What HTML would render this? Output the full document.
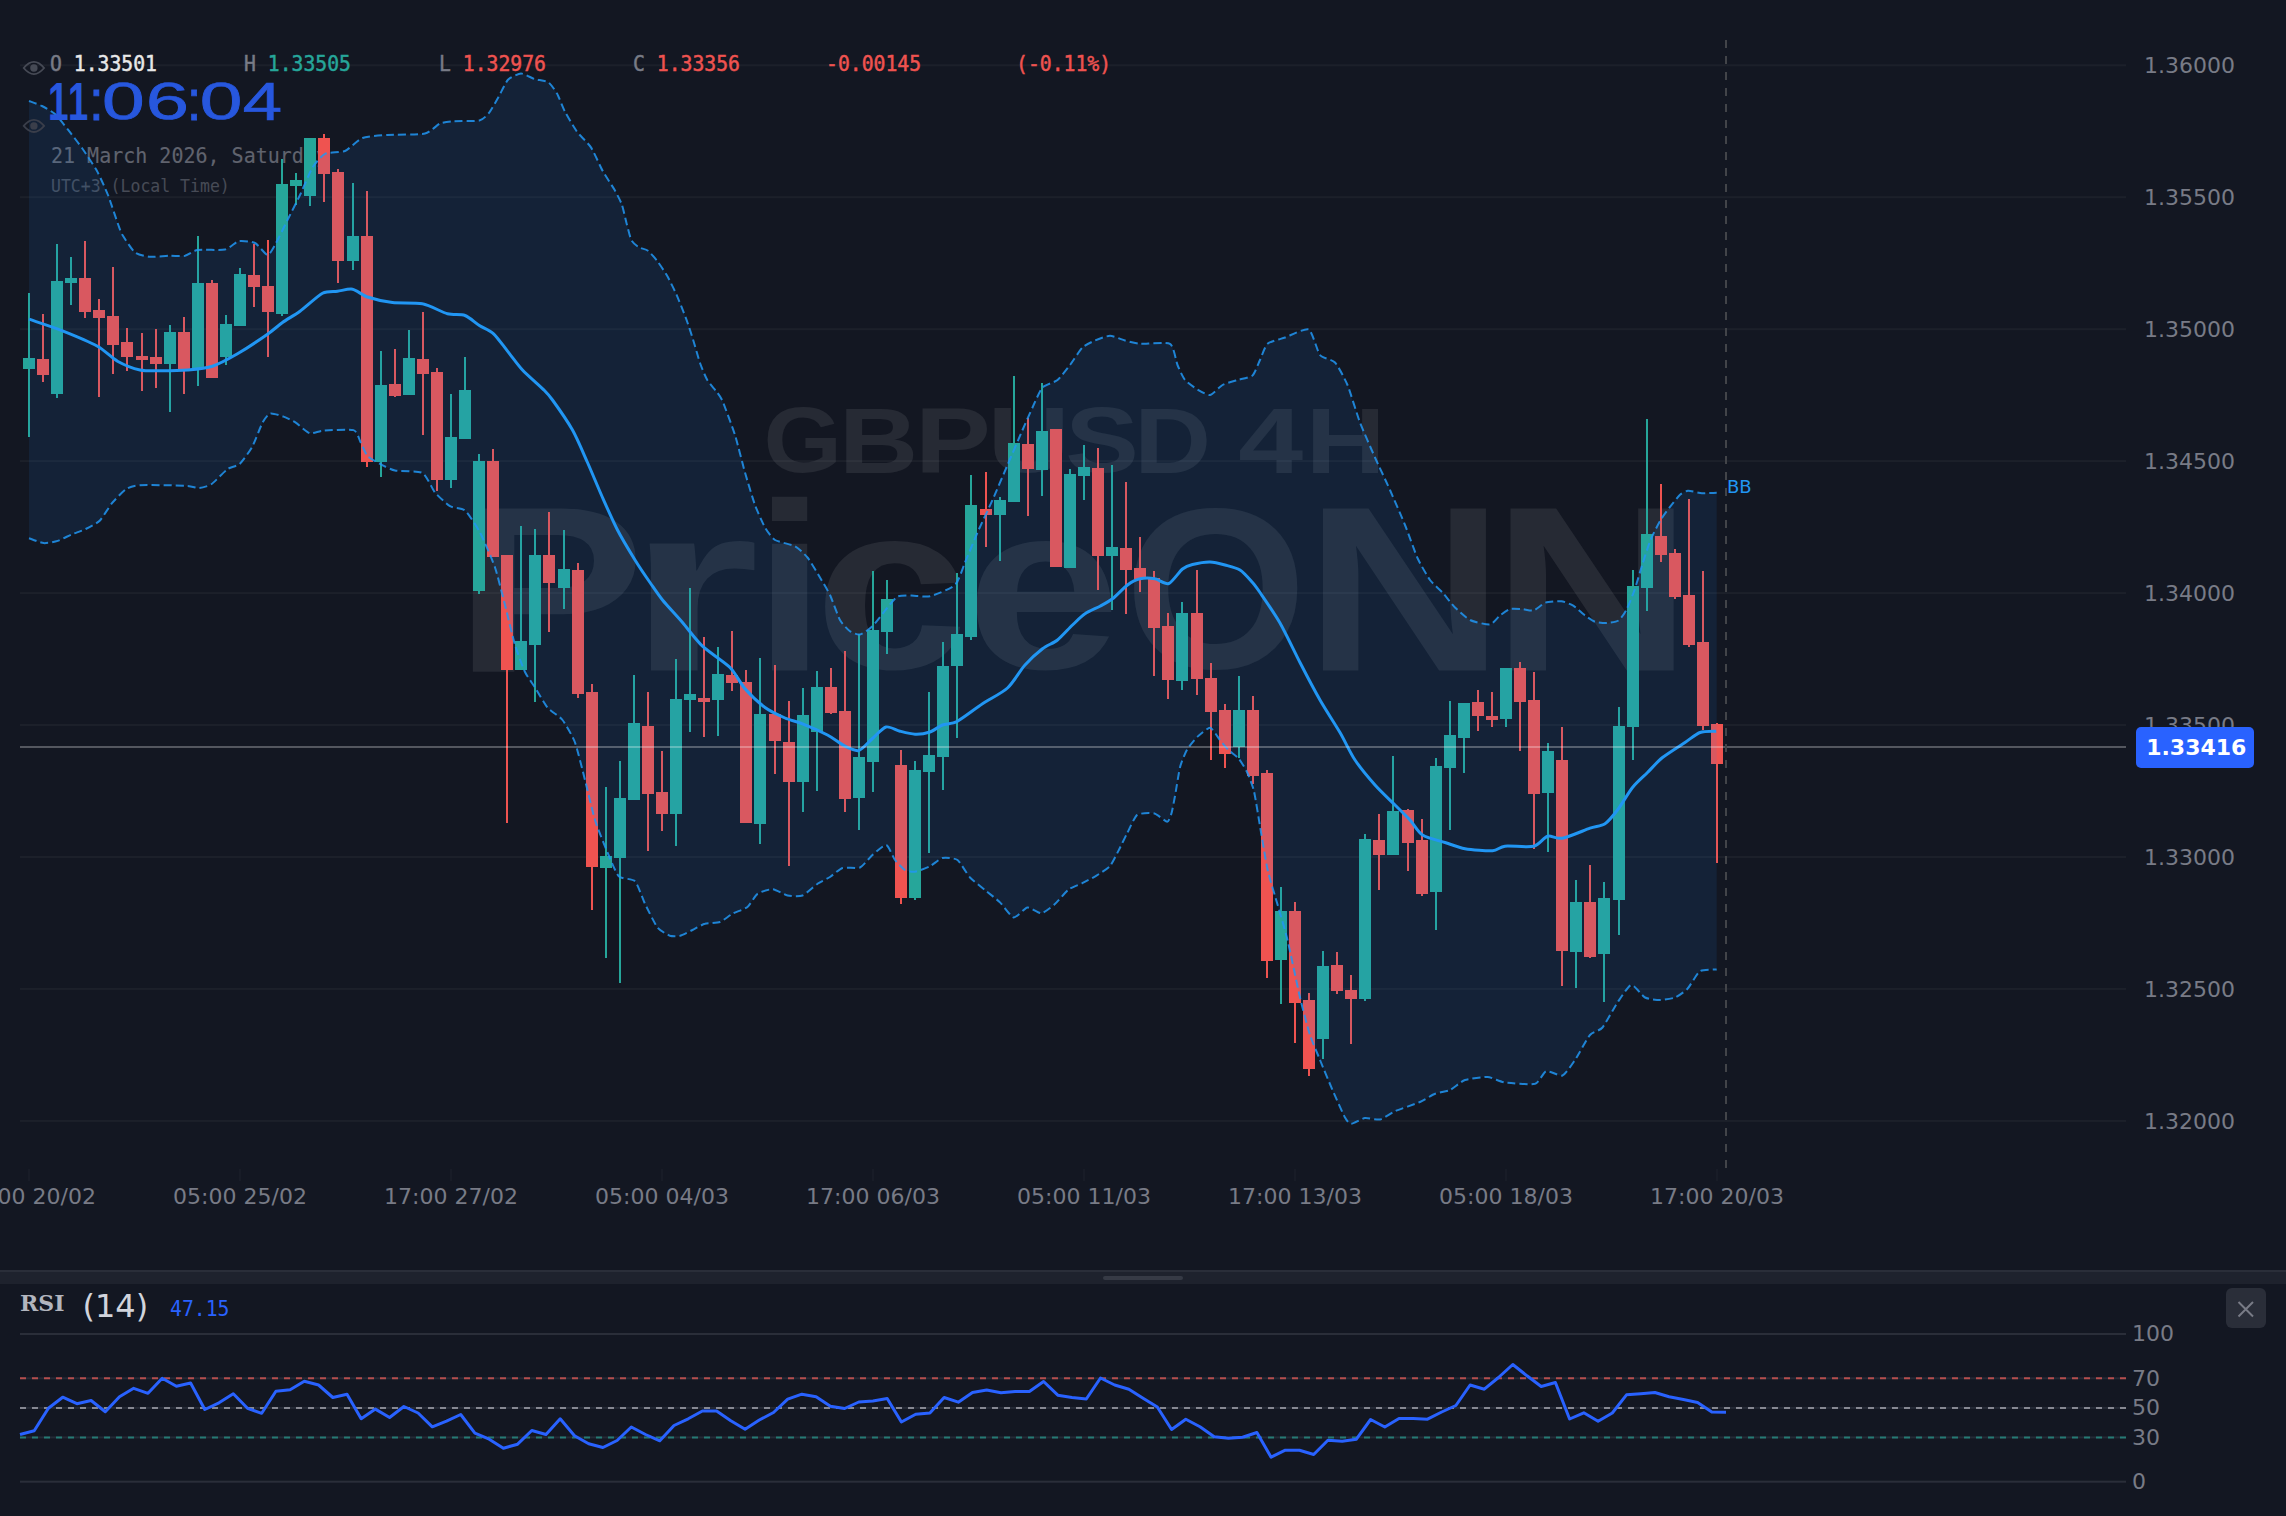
<!DOCTYPE html>
<html><head><meta charset="utf-8"><title>GBPUSD 4H</title>
<style>
html,body{margin:0;padding:0;background:#131722;}
body{width:2286px;height:1516px;position:relative;overflow:hidden;font-family:"DejaVu Sans","Liberation Sans",sans-serif;}
.t{position:absolute;white-space:nowrap;line-height:1.2}
.ax{font-size:22px;color:#787b86}
.pl{font-size:22px;font-weight:bold;color:#fff;background:#2962ff;border-radius:5px;width:118px;height:40.5px;box-sizing:border-box;padding:7.9px 0 0 10.2px}
.bb{font-size:18px;color:#2196f3}
.mono{font-family:"DejaVu Sans Mono","Liberation Mono",monospace;font-size:22px;font-weight:normal;-webkit-text-stroke:0.5px;transform-origin:0 0;transform:scaleX(0.897)}
.clock{font-family:"Liberation Sans",sans-serif;font-weight:bold;font-size:53px;color:#2a5be0;transform-origin:0 0;transform:scaleX(1.13);letter-spacing:0px}
.rsi{font-family:"DejaVu Serif","Liberation Serif",serif;font-weight:bold;font-size:22px;color:#b2b5be}

.rsin{font-size:32px;color:#d1d4dc}
</style></head><body>
<div class="t" style="left:0;top:0;font-family:'Liberation Sans',sans-serif;font-weight:bold;color:rgba(255,255,255,0.083);font-size:200px;"><span style="display:inline-block;width:0;vertical-align:top;transform-origin:0 0;transform:translate(453.60px,447.47px) scale(1.4386,1.1869);">P</span><span style="display:inline-block;width:0;vertical-align:top;transform-origin:0 0;transform:translate(627.20px,443.10px) scale(1.7000,1.2037);">r</span><span style="display:inline-block;width:0;vertical-align:top;transform-origin:0 0;transform:translate(754.01px,443.93px) scale(1.2852,1.1993);">i</span><span style="display:inline-block;width:0;vertical-align:top;transform-origin:0 0;transform:translate(814.32px,444.87px) scale(1.3845,1.1818);">c</span><span style="display:inline-block;width:0;vertical-align:top;transform-origin:0 0;transform:translate(965.86px,444.87px) scale(1.3927,1.1818);">e</span><span style="display:inline-block;width:0;vertical-align:top;transform-origin:0 0;transform:translate(1124.41px,451.89px) scale(1.1741,1.1451);">O</span><span style="display:inline-block;width:0;vertical-align:top;transform-origin:0 0;transform:translate(1304.38px,447.91px) scale(1.3864,1.1783);">N</span><span style="display:inline-block;width:0;vertical-align:top;transform-origin:0 0;transform:translate(1491.97px,447.91px) scale(1.3873,1.1783);">N</span></div><div class="t" style="left:0;top:0;font-family:'Liberation Sans',sans-serif;font-weight:bold;color:rgba(255,255,255,0.083);font-size:90px;word-spacing:-0.278em"><span style="display:inline-block;width:0;vertical-align:top;transform-origin:0 0;transform:translate(763.51px,385.45px) scale(1.1217,1.0203);">G</span><span style="display:inline-block;width:0;vertical-align:top;transform-origin:0 0;transform:translate(838.89px,385.10px) scale(1.2182,1.0365);">B</span><span style="display:inline-block;width:0;vertical-align:top;transform-origin:0 0;transform:translate(914.92px,385.10px) scale(1.2627,1.0365);">P</span><span style="display:inline-block;width:0;vertical-align:top;transform-origin:0 0;transform:translate(987.70px,384.06px) scale(1.2593,1.0365);">U</span><span style="display:inline-block;width:0;vertical-align:top;transform-origin:0 0;transform:translate(1065.32px,385.45px) scale(1.2264,1.0203);">S</span><span style="display:inline-block;width:0;vertical-align:top;transform-origin:0 0;transform:translate(1134.21px,385.10px) scale(1.1818,1.0365);">D</span> <span style="display:inline-block;width:0;vertical-align:top;transform-origin:0 0;transform:translate(1238.20px,385.10px) scale(1.2959,1.0365);">4</span><span style="display:inline-block;width:0;vertical-align:top;transform-origin:0 0;transform:translate(1305.64px,385.10px) scale(1.2264,1.0365);">H</span></div><div class="t mono" style="left:51px;top:143px;color:#60636e;font-weight:normal;-webkit-text-stroke:0.15px;transform:scaleX(0.909)">21 March 2026, Saturday</div><div class="t mono" style="left:51px;top:175px;color:#474b56;font-size:18.4px;font-weight:normal;-webkit-text-stroke:0.1px;transform:scaleX(0.897)">UTC+3 (Local Time)</div>
<svg width="2286" height="1516" viewBox="0 0 2286 1516" style="position:absolute;left:0;top:0"><rect x="20" y="64.3" width="2106" height="2" fill="rgba(255,255,255,0.04)"/><rect x="20" y="196.2" width="2106" height="2" fill="rgba(255,255,255,0.04)"/><rect x="20" y="328.2" width="2106" height="2" fill="rgba(255,255,255,0.04)"/><rect x="20" y="460.1" width="2106" height="2" fill="rgba(255,255,255,0.04)"/><rect x="20" y="592.1" width="2106" height="2" fill="rgba(255,255,255,0.04)"/><rect x="20" y="724.0" width="2106" height="2" fill="rgba(255,255,255,0.04)"/><rect x="20" y="856.0" width="2106" height="2" fill="rgba(255,255,255,0.04)"/><rect x="20" y="987.9" width="2106" height="2" fill="rgba(255,255,255,0.04)"/><rect x="20" y="1119.9" width="2106" height="2" fill="rgba(255,255,255,0.04)"/><rect x="28" y="293" width="2" height="144" fill="#26a69a"/><rect x="23" y="358" width="12" height="11" fill="#26a69a"/><rect x="42" y="314" width="2" height="68" fill="#ef5350"/><rect x="37" y="359" width="12" height="16" fill="#ef5350"/><rect x="56" y="244" width="2" height="154" fill="#26a69a"/><rect x="51" y="281" width="12" height="113" fill="#26a69a"/><rect x="70" y="257" width="2" height="48" fill="#26a69a"/><rect x="65" y="278" width="12" height="5" fill="#26a69a"/><rect x="84" y="241" width="2" height="77" fill="#ef5350"/><rect x="79" y="278" width="12" height="34" fill="#ef5350"/><rect x="98" y="299" width="2" height="98" fill="#ef5350"/><rect x="93" y="310" width="12" height="8" fill="#ef5350"/><rect x="112" y="267" width="2" height="107" fill="#ef5350"/><rect x="107" y="316" width="12" height="29" fill="#ef5350"/><rect x="126" y="328" width="2" height="43" fill="#ef5350"/><rect x="121" y="342" width="12" height="15" fill="#ef5350"/><rect x="141" y="333" width="2" height="58" fill="#ef5350"/><rect x="136" y="356" width="12" height="4" fill="#ef5350"/><rect x="155" y="329" width="2" height="59" fill="#ef5350"/><rect x="150" y="357" width="12" height="7" fill="#ef5350"/><rect x="169" y="325" width="2" height="87" fill="#26a69a"/><rect x="164" y="332" width="12" height="32" fill="#26a69a"/><rect x="183" y="317" width="2" height="77" fill="#ef5350"/><rect x="178" y="332" width="12" height="37" fill="#ef5350"/><rect x="197" y="236" width="2" height="150" fill="#26a69a"/><rect x="192" y="283" width="12" height="86" fill="#26a69a"/><rect x="211" y="280" width="2" height="98" fill="#ef5350"/><rect x="206" y="283" width="12" height="95" fill="#ef5350"/><rect x="225" y="315" width="2" height="50" fill="#26a69a"/><rect x="220" y="324" width="12" height="33" fill="#26a69a"/><rect x="239" y="268" width="2" height="58" fill="#26a69a"/><rect x="234" y="274" width="12" height="52" fill="#26a69a"/><rect x="253" y="244" width="2" height="63" fill="#ef5350"/><rect x="248" y="275" width="12" height="12" fill="#ef5350"/><rect x="267" y="240" width="2" height="117" fill="#ef5350"/><rect x="262" y="286" width="12" height="26" fill="#ef5350"/><rect x="281" y="159" width="2" height="157" fill="#26a69a"/><rect x="276" y="184" width="12" height="130" fill="#26a69a"/><rect x="295" y="173" width="2" height="32" fill="#26a69a"/><rect x="290" y="180" width="12" height="6" fill="#26a69a"/><rect x="309" y="138" width="2" height="68" fill="#26a69a"/><rect x="304" y="138" width="12" height="58" fill="#26a69a"/><rect x="323" y="134" width="2" height="68" fill="#ef5350"/><rect x="318" y="138" width="12" height="36" fill="#ef5350"/><rect x="337" y="169" width="2" height="114" fill="#ef5350"/><rect x="332" y="172" width="12" height="89" fill="#ef5350"/><rect x="352" y="183" width="2" height="87" fill="#26a69a"/><rect x="347" y="236" width="12" height="25" fill="#26a69a"/><rect x="366" y="191" width="2" height="276" fill="#ef5350"/><rect x="361" y="236" width="12" height="226" fill="#ef5350"/><rect x="380" y="351" width="2" height="126" fill="#26a69a"/><rect x="375" y="385" width="12" height="77" fill="#26a69a"/><rect x="394" y="349" width="2" height="48" fill="#ef5350"/><rect x="389" y="384" width="12" height="12" fill="#ef5350"/><rect x="408" y="330" width="2" height="65" fill="#26a69a"/><rect x="403" y="358" width="12" height="37" fill="#26a69a"/><rect x="422" y="312" width="2" height="123" fill="#ef5350"/><rect x="417" y="359" width="12" height="15" fill="#ef5350"/><rect x="436" y="368" width="2" height="123" fill="#ef5350"/><rect x="431" y="372" width="12" height="108" fill="#ef5350"/><rect x="450" y="394" width="2" height="94" fill="#26a69a"/><rect x="445" y="437" width="12" height="43" fill="#26a69a"/><rect x="464" y="357" width="2" height="82" fill="#26a69a"/><rect x="459" y="390" width="12" height="49" fill="#26a69a"/><rect x="478" y="454" width="2" height="140" fill="#26a69a"/><rect x="473" y="461" width="12" height="130" fill="#26a69a"/><rect x="492" y="449" width="2" height="108" fill="#ef5350"/><rect x="487" y="461" width="12" height="96" fill="#ef5350"/><rect x="506" y="555" width="2" height="268" fill="#ef5350"/><rect x="501" y="555" width="12" height="115" fill="#ef5350"/><rect x="520" y="526" width="2" height="144" fill="#26a69a"/><rect x="515" y="641" width="12" height="29" fill="#26a69a"/><rect x="534" y="529" width="2" height="173" fill="#26a69a"/><rect x="529" y="555" width="12" height="90" fill="#26a69a"/><rect x="548" y="512" width="2" height="120" fill="#ef5350"/><rect x="543" y="555" width="12" height="28" fill="#ef5350"/><rect x="563" y="530" width="2" height="79" fill="#26a69a"/><rect x="558" y="569" width="12" height="19" fill="#26a69a"/><rect x="577" y="563" width="2" height="135" fill="#ef5350"/><rect x="572" y="570" width="12" height="124" fill="#ef5350"/><rect x="591" y="684" width="2" height="226" fill="#ef5350"/><rect x="586" y="692" width="12" height="175" fill="#ef5350"/><rect x="605" y="787" width="2" height="171" fill="#26a69a"/><rect x="600" y="856" width="12" height="12" fill="#26a69a"/><rect x="619" y="761" width="2" height="222" fill="#26a69a"/><rect x="614" y="798" width="12" height="60" fill="#26a69a"/><rect x="633" y="675" width="2" height="125" fill="#26a69a"/><rect x="628" y="723" width="12" height="77" fill="#26a69a"/><rect x="647" y="692" width="2" height="159" fill="#ef5350"/><rect x="642" y="726" width="12" height="68" fill="#ef5350"/><rect x="661" y="751" width="2" height="80" fill="#ef5350"/><rect x="656" y="792" width="12" height="22" fill="#ef5350"/><rect x="675" y="659" width="2" height="187" fill="#26a69a"/><rect x="670" y="699" width="12" height="115" fill="#26a69a"/><rect x="689" y="588" width="2" height="144" fill="#26a69a"/><rect x="684" y="694" width="12" height="6" fill="#26a69a"/><rect x="703" y="637" width="2" height="100" fill="#ef5350"/><rect x="698" y="698" width="12" height="4" fill="#ef5350"/><rect x="717" y="647" width="2" height="89" fill="#26a69a"/><rect x="712" y="674" width="12" height="26" fill="#26a69a"/><rect x="731" y="631" width="2" height="60" fill="#ef5350"/><rect x="726" y="675" width="12" height="8" fill="#ef5350"/><rect x="745" y="670" width="2" height="153" fill="#ef5350"/><rect x="740" y="682" width="12" height="141" fill="#ef5350"/><rect x="759" y="658" width="2" height="186" fill="#26a69a"/><rect x="754" y="714" width="12" height="110" fill="#26a69a"/><rect x="774" y="665" width="2" height="109" fill="#ef5350"/><rect x="769" y="714" width="12" height="27" fill="#ef5350"/><rect x="788" y="701" width="2" height="165" fill="#ef5350"/><rect x="783" y="742" width="12" height="40" fill="#ef5350"/><rect x="802" y="688" width="2" height="124" fill="#26a69a"/><rect x="797" y="715" width="12" height="67" fill="#26a69a"/><rect x="816" y="671" width="2" height="120" fill="#26a69a"/><rect x="811" y="687" width="12" height="45" fill="#26a69a"/><rect x="830" y="668" width="2" height="46" fill="#ef5350"/><rect x="825" y="687" width="12" height="26" fill="#ef5350"/><rect x="844" y="651" width="2" height="161" fill="#ef5350"/><rect x="839" y="711" width="12" height="88" fill="#ef5350"/><rect x="858" y="634" width="2" height="196" fill="#26a69a"/><rect x="853" y="757" width="12" height="41" fill="#26a69a"/><rect x="872" y="571" width="2" height="221" fill="#26a69a"/><rect x="867" y="630" width="12" height="132" fill="#26a69a"/><rect x="886" y="580" width="2" height="74" fill="#26a69a"/><rect x="881" y="599" width="12" height="33" fill="#26a69a"/><rect x="900" y="750" width="2" height="154" fill="#ef5350"/><rect x="895" y="765" width="12" height="133" fill="#ef5350"/><rect x="914" y="761" width="2" height="139" fill="#26a69a"/><rect x="909" y="770" width="12" height="128" fill="#26a69a"/><rect x="928" y="692" width="2" height="161" fill="#26a69a"/><rect x="923" y="755" width="12" height="17" fill="#26a69a"/><rect x="942" y="642" width="2" height="148" fill="#26a69a"/><rect x="937" y="666" width="12" height="91" fill="#26a69a"/><rect x="956" y="573" width="2" height="165" fill="#26a69a"/><rect x="951" y="634" width="12" height="32" fill="#26a69a"/><rect x="970" y="475" width="2" height="165" fill="#26a69a"/><rect x="965" y="505" width="12" height="132" fill="#26a69a"/><rect x="985" y="472" width="2" height="75" fill="#ef5350"/><rect x="980" y="509" width="12" height="6" fill="#ef5350"/><rect x="999" y="497" width="2" height="64" fill="#26a69a"/><rect x="994" y="500" width="12" height="15" fill="#26a69a"/><rect x="1013" y="376" width="2" height="126" fill="#26a69a"/><rect x="1008" y="443" width="12" height="59" fill="#26a69a"/><rect x="1027" y="418" width="2" height="98" fill="#ef5350"/><rect x="1022" y="444" width="12" height="25" fill="#ef5350"/><rect x="1041" y="383" width="2" height="113" fill="#26a69a"/><rect x="1036" y="431" width="12" height="39" fill="#26a69a"/><rect x="1055" y="429" width="2" height="138" fill="#ef5350"/><rect x="1050" y="429" width="12" height="138" fill="#ef5350"/><rect x="1069" y="469" width="2" height="99" fill="#26a69a"/><rect x="1064" y="474" width="12" height="94" fill="#26a69a"/><rect x="1083" y="445" width="2" height="55" fill="#26a69a"/><rect x="1078" y="467" width="12" height="9" fill="#26a69a"/><rect x="1097" y="448" width="2" height="142" fill="#ef5350"/><rect x="1092" y="468" width="12" height="88" fill="#ef5350"/><rect x="1111" y="465" width="2" height="145" fill="#26a69a"/><rect x="1106" y="547" width="12" height="9" fill="#26a69a"/><rect x="1125" y="482" width="2" height="132" fill="#ef5350"/><rect x="1120" y="548" width="12" height="22" fill="#ef5350"/><rect x="1139" y="537" width="2" height="55" fill="#ef5350"/><rect x="1134" y="568" width="12" height="11" fill="#ef5350"/><rect x="1153" y="571" width="2" height="105" fill="#ef5350"/><rect x="1148" y="578" width="12" height="50" fill="#ef5350"/><rect x="1167" y="613" width="2" height="86" fill="#ef5350"/><rect x="1162" y="626" width="12" height="54" fill="#ef5350"/><rect x="1181" y="602" width="2" height="88" fill="#26a69a"/><rect x="1176" y="613" width="12" height="68" fill="#26a69a"/><rect x="1196" y="570" width="2" height="125" fill="#ef5350"/><rect x="1191" y="613" width="12" height="66" fill="#ef5350"/><rect x="1210" y="663" width="2" height="97" fill="#ef5350"/><rect x="1205" y="678" width="12" height="34" fill="#ef5350"/><rect x="1224" y="704" width="2" height="64" fill="#ef5350"/><rect x="1219" y="710" width="12" height="44" fill="#ef5350"/><rect x="1238" y="676" width="2" height="82" fill="#26a69a"/><rect x="1233" y="710" width="12" height="37" fill="#26a69a"/><rect x="1252" y="696" width="2" height="88" fill="#ef5350"/><rect x="1247" y="710" width="12" height="66" fill="#ef5350"/><rect x="1266" y="770" width="2" height="208" fill="#ef5350"/><rect x="1261" y="773" width="12" height="188" fill="#ef5350"/><rect x="1280" y="887" width="2" height="117" fill="#26a69a"/><rect x="1275" y="911" width="12" height="49" fill="#26a69a"/><rect x="1294" y="902" width="2" height="141" fill="#ef5350"/><rect x="1289" y="911" width="12" height="92" fill="#ef5350"/><rect x="1308" y="993" width="2" height="83" fill="#ef5350"/><rect x="1303" y="1000" width="12" height="69" fill="#ef5350"/><rect x="1322" y="951" width="2" height="108" fill="#26a69a"/><rect x="1317" y="966" width="12" height="73" fill="#26a69a"/><rect x="1336" y="952" width="2" height="42" fill="#ef5350"/><rect x="1331" y="965" width="12" height="26" fill="#ef5350"/><rect x="1350" y="975" width="2" height="69" fill="#ef5350"/><rect x="1345" y="990" width="12" height="9" fill="#ef5350"/><rect x="1364" y="834" width="2" height="167" fill="#26a69a"/><rect x="1359" y="839" width="12" height="160" fill="#26a69a"/><rect x="1378" y="814" width="2" height="76" fill="#ef5350"/><rect x="1373" y="840" width="12" height="15" fill="#ef5350"/><rect x="1392" y="756" width="2" height="99" fill="#26a69a"/><rect x="1387" y="811" width="12" height="44" fill="#26a69a"/><rect x="1407" y="809" width="2" height="62" fill="#ef5350"/><rect x="1402" y="810" width="12" height="33" fill="#ef5350"/><rect x="1421" y="819" width="2" height="77" fill="#ef5350"/><rect x="1416" y="840" width="12" height="54" fill="#ef5350"/><rect x="1435" y="758" width="2" height="172" fill="#26a69a"/><rect x="1430" y="766" width="12" height="126" fill="#26a69a"/><rect x="1449" y="701" width="2" height="129" fill="#26a69a"/><rect x="1444" y="735" width="12" height="33" fill="#26a69a"/><rect x="1463" y="703" width="2" height="70" fill="#26a69a"/><rect x="1458" y="703" width="12" height="35" fill="#26a69a"/><rect x="1477" y="690" width="2" height="41" fill="#ef5350"/><rect x="1472" y="702" width="12" height="14" fill="#ef5350"/><rect x="1491" y="692" width="2" height="35" fill="#ef5350"/><rect x="1486" y="716" width="12" height="4" fill="#ef5350"/><rect x="1505" y="668" width="2" height="59" fill="#26a69a"/><rect x="1500" y="668" width="12" height="51" fill="#26a69a"/><rect x="1519" y="662" width="2" height="89" fill="#ef5350"/><rect x="1514" y="668" width="12" height="34" fill="#ef5350"/><rect x="1533" y="672" width="2" height="177" fill="#ef5350"/><rect x="1528" y="700" width="12" height="94" fill="#ef5350"/><rect x="1547" y="743" width="2" height="109" fill="#26a69a"/><rect x="1542" y="751" width="12" height="42" fill="#26a69a"/><rect x="1561" y="727" width="2" height="259" fill="#ef5350"/><rect x="1556" y="760" width="12" height="191" fill="#ef5350"/><rect x="1575" y="880" width="2" height="108" fill="#26a69a"/><rect x="1570" y="902" width="12" height="50" fill="#26a69a"/><rect x="1589" y="865" width="2" height="93" fill="#ef5350"/><rect x="1584" y="902" width="12" height="55" fill="#ef5350"/><rect x="1603" y="882" width="2" height="120" fill="#26a69a"/><rect x="1598" y="898" width="12" height="56" fill="#26a69a"/><rect x="1618" y="707" width="2" height="228" fill="#26a69a"/><rect x="1613" y="726" width="12" height="174" fill="#26a69a"/><rect x="1632" y="570" width="2" height="190" fill="#26a69a"/><rect x="1627" y="586" width="12" height="141" fill="#26a69a"/><rect x="1646" y="419" width="2" height="192" fill="#26a69a"/><rect x="1641" y="534" width="12" height="54" fill="#26a69a"/><rect x="1660" y="484" width="2" height="78" fill="#ef5350"/><rect x="1655" y="536" width="12" height="19" fill="#ef5350"/><rect x="1674" y="549" width="2" height="50" fill="#ef5350"/><rect x="1669" y="553" width="12" height="44" fill="#ef5350"/><rect x="1688" y="499" width="2" height="148" fill="#ef5350"/><rect x="1683" y="595" width="12" height="50" fill="#ef5350"/><rect x="1702" y="571" width="2" height="159" fill="#ef5350"/><rect x="1697" y="642" width="12" height="84" fill="#ef5350"/><rect x="1716" y="723" width="2" height="140" fill="#ef5350"/><rect x="1711" y="724" width="12" height="40" fill="#ef5350"/><path d="M29.0,101.0C30.3,101.5 39.4,104.7 42.0,106.0C44.6,107.3 52.4,111.6 55.0,114.0C57.6,116.4 65.3,126.3 68.0,129.7C70.7,133.1 79.1,143.9 82.0,148.0C84.9,152.1 94.4,166.3 97.0,171.0C99.6,175.7 105.9,189.7 108.0,195.0C110.1,200.3 116.5,220.0 118.0,224.0C119.5,228.0 120.8,232.2 122.5,235.0C124.2,237.8 132.2,250.3 135.0,252.5C137.8,254.7 146.5,256.4 150.0,256.8C153.5,257.1 166.5,255.8 170.0,255.8C173.5,255.7 182.2,256.3 185.0,255.8C187.8,255.2 193.5,250.6 197.5,250.0C201.5,249.4 220.9,250.4 225.0,249.5C229.1,248.6 235.8,241.9 238.8,241.2C241.8,240.6 252.1,241.6 255.0,243.0C257.9,244.4 265.5,254.8 267.5,255.0C269.5,255.2 273.0,248.5 275.0,245.0C277.0,241.5 285.0,225.0 287.5,220.0C290.0,215.0 297.5,200.2 300.0,195.0C302.5,189.8 310.0,171.6 312.5,167.5C315.0,163.4 321.8,155.4 325.0,153.8C328.2,152.1 341.2,152.6 345.0,151.0C348.8,149.4 358.2,139.6 362.5,138.0C366.8,136.4 381.2,135.4 387.5,135.0C393.8,134.6 419.8,134.7 425.0,133.5C430.2,132.3 437.2,124.7 440.0,123.5C442.8,122.3 449.1,121.5 453.0,121.2C456.9,120.9 475.8,121.3 479.4,120.5C483.0,119.7 487.1,115.2 489.0,112.9C490.9,110.6 496.6,100.3 498.5,97.0C500.4,93.7 505.8,82.1 508.0,79.8C510.2,77.5 518.4,73.6 521.0,73.5C523.6,73.4 531.8,78.1 534.5,79.0C537.2,79.9 546.1,80.8 548.4,82.3C550.6,83.8 555.3,90.6 557.0,93.5C558.7,96.4 563.0,107.9 565.0,111.7C567.0,115.5 574.2,127.9 576.8,131.5C579.4,135.1 588.4,143.4 591.0,147.4C593.6,151.4 600.4,166.8 602.8,171.1C605.2,175.4 612.8,186.8 614.7,190.1C616.6,193.4 620.6,201.1 621.8,204.4C623.0,207.7 625.6,219.8 626.6,223.4C627.6,227.0 630.1,237.6 631.3,240.0C632.5,242.4 636.8,246.0 638.5,247.1C640.2,248.2 646.1,249.3 648.0,250.7C649.9,252.1 655.6,258.8 657.5,261.3C659.4,263.8 665.1,272.3 667.0,275.6C668.9,278.9 674.6,290.3 676.5,294.6C678.4,298.9 684.3,313.8 686.0,318.3C687.7,322.8 691.7,335.2 693.1,339.7C694.5,344.2 698.8,359.5 700.2,363.5C701.6,367.5 705.6,377.2 707.3,380.1C709.0,383.0 715.3,389.9 716.8,392.0C718.3,394.1 720.7,396.7 722.5,401.0C724.3,405.3 732.8,427.9 735.0,435.0C737.2,442.1 743.0,465.5 745.0,472.5C747.0,479.5 753.0,499.5 755.0,505.0C757.0,510.5 763.0,524.0 765.0,527.5C767.0,531.0 772.0,538.1 775.0,540.0C778.0,541.9 791.8,544.5 795.0,546.2C798.2,548.0 805.0,554.4 807.5,557.5C810.0,560.6 817.8,573.8 820.0,577.5C822.2,581.2 828.0,590.8 830.0,595.0C832.0,599.2 838.0,616.4 840.0,620.0C842.0,623.6 848.0,629.8 850.0,631.2C852.0,632.7 857.8,635.0 860.0,634.5C862.2,634.0 869.8,629.0 872.5,626.2C875.2,623.5 885.0,610.5 887.5,607.5C890.0,604.5 895.1,597.7 897.5,596.5C899.9,595.3 908.2,595.5 911.5,595.5C914.8,595.5 925.6,597.3 930.0,596.2C934.4,595.2 951.5,588.4 955.0,585.0C958.5,581.6 962.8,567.8 965.0,562.5C967.2,557.2 974.8,538.8 977.5,532.5C980.2,526.2 989.5,506.8 992.5,500.0C995.5,493.2 1004.5,472.0 1007.5,465.0C1010.5,458.0 1020.0,435.8 1022.5,430.0C1025.0,424.2 1030.5,411.8 1032.5,407.5C1034.5,403.2 1040.0,390.2 1042.5,387.5C1045.0,384.8 1054.8,382.2 1057.5,380.0C1060.2,377.8 1067.5,368.2 1070.0,365.0C1072.5,361.8 1080.0,349.9 1082.5,347.5C1085.0,345.1 1092.2,341.7 1095.0,340.5C1097.8,339.3 1107.0,335.8 1110.0,335.8C1113.0,335.8 1122.0,339.7 1125.0,340.5C1128.0,341.3 1135.5,343.4 1140.0,343.8C1144.5,344.1 1166.2,341.6 1170.0,343.8C1173.8,345.9 1176.0,361.4 1177.5,365.0C1179.0,368.6 1183.0,377.6 1185.0,380.0C1187.0,382.4 1195.0,388.0 1197.5,389.5C1200.0,391.0 1207.5,395.4 1210.0,395.0C1212.5,394.6 1219.8,386.5 1222.5,385.0C1225.2,383.5 1234.5,380.9 1237.5,380.0C1240.5,379.1 1250.2,377.5 1252.5,375.5C1254.8,373.5 1258.5,363.2 1260.0,360.0C1261.5,356.8 1265.0,346.0 1267.5,343.8C1270.0,341.5 1280.9,338.9 1285.0,337.5C1289.1,336.1 1305.2,327.8 1308.8,329.5C1312.2,331.2 1317.4,351.7 1320.0,355.0C1322.6,358.3 1332.2,359.5 1335.0,362.5C1337.8,365.5 1345.0,379.0 1347.5,385.0C1350.0,391.0 1357.2,415.2 1360.0,422.5C1362.8,429.8 1372.0,450.8 1375.0,457.5C1378.0,464.2 1387.0,483.2 1390.0,490.0C1393.0,496.8 1402.2,518.2 1405.0,525.0C1407.8,531.8 1415.0,552.5 1417.5,558.0C1420.0,563.5 1427.5,576.5 1430.0,580.0C1432.5,583.5 1440.0,589.8 1442.5,592.5C1445.0,595.2 1452.2,604.8 1455.0,607.5C1457.8,610.2 1466.5,618.3 1470.0,620.0C1473.5,621.7 1487.0,625.0 1490.0,624.5C1493.0,624.0 1498.0,617.0 1500.0,615.5C1502.0,614.0 1507.8,609.6 1510.0,609.0C1512.2,608.4 1519.4,608.9 1521.8,609.0C1524.2,609.1 1531.2,611.1 1533.6,610.5C1536.0,609.9 1542.7,603.5 1545.5,602.6C1548.3,601.7 1558.5,600.9 1561.3,601.2C1564.1,601.5 1570.8,604.2 1573.2,605.6C1575.6,607.0 1582.8,613.9 1585.0,615.5C1587.2,617.1 1592.8,621.0 1595.0,621.8C1597.2,622.5 1604.5,623.1 1606.9,623.0C1609.3,622.9 1616.7,621.8 1618.7,620.4C1620.7,619.0 1625.0,612.6 1626.6,609.5C1628.2,606.4 1633.0,594.3 1634.6,589.8C1636.2,585.2 1640.9,569.0 1642.5,564.0C1644.1,559.0 1648.6,544.6 1650.4,540.3C1652.2,535.9 1658.3,523.9 1660.3,520.5C1662.3,517.1 1668.2,509.2 1670.2,506.6C1672.2,504.0 1678.2,496.4 1680.0,494.8C1681.8,493.2 1685.8,491.0 1688.0,490.8C1690.2,490.6 1699.0,493.0 1701.9,493.2C1704.8,493.4 1715.2,492.8 1716.7,492.8L1716.7,969.5C1715.0,969.7 1702.9,969.3 1700.0,971.2C1697.1,973.2 1690.0,986.1 1687.5,988.8C1685.0,991.4 1677.8,996.4 1675.0,997.5C1672.2,998.6 1663.0,1000.0 1660.0,1000.0C1657.0,1000.0 1647.9,999.0 1645.0,997.5C1642.1,996.0 1634.0,984.5 1631.2,985.0C1628.5,985.5 1620.4,998.2 1617.5,1002.5C1614.6,1006.8 1605.2,1024.2 1602.5,1027.5C1599.8,1030.8 1592.8,1031.8 1590.0,1035.0C1587.2,1038.2 1577.8,1056.0 1575.0,1060.0C1572.2,1064.0 1565.4,1074.4 1562.5,1075.5C1559.6,1076.6 1549.0,1070.4 1546.2,1071.2C1543.5,1072.1 1539.1,1082.6 1535.0,1083.8C1530.9,1084.9 1509.8,1083.2 1505.0,1082.5C1500.2,1081.8 1491.5,1077.2 1487.5,1077.0C1483.5,1076.8 1468.8,1078.7 1465.0,1080.0C1461.2,1081.3 1453.0,1088.6 1450.0,1090.0C1447.0,1091.4 1438.0,1092.5 1435.0,1093.8C1432.0,1095.0 1424.0,1100.2 1420.0,1102.0C1416.0,1103.8 1399.0,1109.5 1395.0,1111.2C1391.0,1113.0 1383.0,1118.8 1380.0,1119.5C1377.0,1120.2 1367.9,1117.6 1365.0,1118.0C1362.1,1118.4 1353.2,1123.8 1351.2,1123.8C1349.2,1123.7 1346.9,1120.9 1345.0,1117.5C1343.1,1114.1 1335.0,1095.8 1332.5,1090.0C1330.0,1084.2 1322.2,1065.5 1320.0,1060.0C1317.8,1054.5 1312.0,1041.2 1310.0,1035.0C1308.0,1028.8 1302.2,1007.0 1300.0,997.5C1297.8,988.0 1289.7,949.2 1287.5,940.0C1285.3,930.8 1279.9,912.8 1277.9,905.8C1275.9,898.8 1269.3,877.3 1267.6,869.8C1265.9,862.3 1262.1,838.3 1260.7,830.4C1259.3,822.5 1255.3,796.7 1253.9,790.9C1252.5,785.1 1248.5,775.3 1247.0,772.0C1245.5,768.7 1240.3,760.5 1238.4,758.3C1236.5,756.1 1230.0,751.6 1228.1,749.7C1226.2,747.8 1221.4,741.7 1219.6,739.5C1217.8,737.3 1212.3,728.1 1210.1,727.8C1207.9,727.5 1199.6,734.7 1197.3,736.9C1195.0,739.1 1188.7,746.7 1187.0,749.7C1185.3,752.7 1181.3,762.3 1180.1,766.9C1178.9,771.5 1175.9,791.4 1175.0,796.0C1174.1,800.6 1172.3,810.6 1171.5,813.2C1170.7,815.8 1168.9,821.8 1167.2,821.8C1165.5,821.8 1157.4,814.2 1154.4,813.5C1151.4,812.8 1140.0,812.9 1137.2,814.9C1134.5,816.9 1128.8,830.2 1126.9,833.8C1125.0,837.4 1120.1,847.6 1118.4,850.9C1116.7,854.2 1112.0,863.9 1109.8,866.4C1107.6,868.9 1098.8,874.1 1096.1,875.8C1093.3,877.5 1085.0,881.8 1082.3,883.2C1079.5,884.6 1071.3,887.4 1068.6,889.5C1065.9,891.6 1057.6,901.7 1054.9,904.1C1052.2,906.5 1044.0,912.9 1041.2,913.2C1038.5,913.5 1030.2,907.1 1027.4,907.5C1024.7,907.9 1016.4,918.0 1013.7,917.5C1011.0,917.0 1002.9,905.1 1000.0,902.4C997.1,899.6 988.0,892.5 985.0,890.0C982.0,887.5 972.8,880.5 970.0,877.5C967.2,874.5 960.2,862.0 957.5,860.0C954.8,858.0 945.2,857.4 942.5,858.0C939.8,858.6 932.8,864.9 930.0,866.2C927.2,867.6 917.5,871.4 915.0,871.8C912.5,872.1 907.0,871.2 905.0,870.0C903.0,868.8 896.9,862.5 895.0,860.0C893.1,857.5 888.5,845.5 886.2,845.0C884.0,844.5 875.1,852.8 872.5,855.0C869.9,857.2 863.0,866.2 860.0,867.5C857.0,868.8 845.5,867.0 842.5,868.0C839.5,869.0 832.5,875.4 830.0,877.0C827.5,878.6 820.2,881.9 817.5,883.8C814.8,885.6 805.5,894.3 802.5,895.5C799.5,896.7 790.5,896.1 787.5,895.5C784.5,894.9 775.5,889.4 772.5,889.2C769.5,889.1 760.0,892.0 757.5,893.8C755.0,895.5 750.0,905.0 747.5,907.0C745.0,909.0 735.2,912.2 732.5,913.8C729.8,915.2 722.8,921.0 720.0,922.0C717.2,923.0 707.8,923.0 705.0,923.8C702.2,924.5 695.0,928.8 692.5,930.0C690.0,931.2 682.2,935.2 680.0,935.8C677.8,936.3 672.2,936.6 670.0,935.8C667.8,934.9 660.0,930.7 657.5,927.5C655.0,924.3 647.2,908.4 645.0,903.8C642.8,899.1 637.6,884.0 635.0,881.2C632.4,878.5 621.5,879.1 618.8,876.2C616.0,873.4 609.9,858.1 607.5,852.5C605.1,846.9 597.2,827.2 595.0,820.0C592.8,812.8 587.0,787.8 585.0,780.0C583.0,772.2 577.2,748.5 575.0,742.5C572.8,736.5 565.2,723.5 562.5,720.0C559.8,716.5 550.2,710.8 547.5,707.5C544.8,704.2 537.2,691.0 535.0,687.5C532.8,684.0 527.0,676.2 525.0,672.0C523.0,667.8 517.0,651.7 515.0,645.0C513.0,638.3 507.0,612.8 505.0,605.0C503.0,597.2 497.5,574.8 495.0,567.5C492.5,560.2 483.0,538.2 480.0,532.5C477.0,526.8 468.0,513.1 465.0,510.5C462.0,507.9 453.0,508.1 450.0,506.2C447.0,504.4 437.8,495.8 435.0,492.5C432.2,489.2 426.5,475.2 422.5,473.0C418.5,470.8 399.1,471.3 395.0,470.5C390.9,469.7 384.2,466.1 381.5,464.7C378.8,463.2 369.6,458.3 367.5,456.0C365.4,453.7 361.9,444.6 360.5,442.0C359.1,439.4 357.2,431.2 353.5,430.1C349.8,429.0 328.1,430.3 323.7,430.6C319.3,430.9 312.5,434.0 309.7,433.2C306.9,432.4 298.3,424.4 295.7,422.7C293.1,421.0 286.0,417.5 283.5,416.6C281.0,415.7 272.4,412.9 270.3,413.5C268.2,414.1 264.3,419.3 262.5,422.7C260.7,426.1 254.3,443.1 252.0,447.2C249.7,451.3 242.1,461.7 239.7,463.9C237.2,466.1 230.3,467.1 227.5,469.1C224.7,471.1 214.5,482.1 211.7,484.0C208.9,485.9 202.1,487.8 199.5,488.0C196.9,488.2 191.4,486.0 185.5,485.7C179.6,485.4 145.9,484.8 140.0,485.2C134.1,485.6 128.8,487.4 126.0,489.2C123.2,491.0 114.6,500.0 112.0,503.2C109.4,506.4 102.3,518.1 99.7,520.7C97.1,523.3 88.5,527.6 85.7,529.0C82.9,530.4 74.5,533.2 71.7,534.4C68.9,535.6 60.5,540.0 57.7,540.9C54.9,541.8 46.6,543.4 43.7,543.1C40.8,542.8 30.5,538.7 29.0,538.2Z" fill="rgba(33,135,243,0.1)"/><path d="M29.0,101.0C30.3,101.5 39.4,104.7 42.0,106.0C44.6,107.3 52.4,111.6 55.0,114.0C57.6,116.4 65.3,126.3 68.0,129.7C70.7,133.1 79.1,143.9 82.0,148.0C84.9,152.1 94.4,166.3 97.0,171.0C99.6,175.7 105.9,189.7 108.0,195.0C110.1,200.3 116.5,220.0 118.0,224.0C119.5,228.0 120.8,232.2 122.5,235.0C124.2,237.8 132.2,250.3 135.0,252.5C137.8,254.7 146.5,256.4 150.0,256.8C153.5,257.1 166.5,255.8 170.0,255.8C173.5,255.7 182.2,256.3 185.0,255.8C187.8,255.2 193.5,250.6 197.5,250.0C201.5,249.4 220.9,250.4 225.0,249.5C229.1,248.6 235.8,241.9 238.8,241.2C241.8,240.6 252.1,241.6 255.0,243.0C257.9,244.4 265.5,254.8 267.5,255.0C269.5,255.2 273.0,248.5 275.0,245.0C277.0,241.5 285.0,225.0 287.5,220.0C290.0,215.0 297.5,200.2 300.0,195.0C302.5,189.8 310.0,171.6 312.5,167.5C315.0,163.4 321.8,155.4 325.0,153.8C328.2,152.1 341.2,152.6 345.0,151.0C348.8,149.4 358.2,139.6 362.5,138.0C366.8,136.4 381.2,135.4 387.5,135.0C393.8,134.6 419.8,134.7 425.0,133.5C430.2,132.3 437.2,124.7 440.0,123.5C442.8,122.3 449.1,121.5 453.0,121.2C456.9,120.9 475.8,121.3 479.4,120.5C483.0,119.7 487.1,115.2 489.0,112.9C490.9,110.6 496.6,100.3 498.5,97.0C500.4,93.7 505.8,82.1 508.0,79.8C510.2,77.5 518.4,73.6 521.0,73.5C523.6,73.4 531.8,78.1 534.5,79.0C537.2,79.9 546.1,80.8 548.4,82.3C550.6,83.8 555.3,90.6 557.0,93.5C558.7,96.4 563.0,107.9 565.0,111.7C567.0,115.5 574.2,127.9 576.8,131.5C579.4,135.1 588.4,143.4 591.0,147.4C593.6,151.4 600.4,166.8 602.8,171.1C605.2,175.4 612.8,186.8 614.7,190.1C616.6,193.4 620.6,201.1 621.8,204.4C623.0,207.7 625.6,219.8 626.6,223.4C627.6,227.0 630.1,237.6 631.3,240.0C632.5,242.4 636.8,246.0 638.5,247.1C640.2,248.2 646.1,249.3 648.0,250.7C649.9,252.1 655.6,258.8 657.5,261.3C659.4,263.8 665.1,272.3 667.0,275.6C668.9,278.9 674.6,290.3 676.5,294.6C678.4,298.9 684.3,313.8 686.0,318.3C687.7,322.8 691.7,335.2 693.1,339.7C694.5,344.2 698.8,359.5 700.2,363.5C701.6,367.5 705.6,377.2 707.3,380.1C709.0,383.0 715.3,389.9 716.8,392.0C718.3,394.1 720.7,396.7 722.5,401.0C724.3,405.3 732.8,427.9 735.0,435.0C737.2,442.1 743.0,465.5 745.0,472.5C747.0,479.5 753.0,499.5 755.0,505.0C757.0,510.5 763.0,524.0 765.0,527.5C767.0,531.0 772.0,538.1 775.0,540.0C778.0,541.9 791.8,544.5 795.0,546.2C798.2,548.0 805.0,554.4 807.5,557.5C810.0,560.6 817.8,573.8 820.0,577.5C822.2,581.2 828.0,590.8 830.0,595.0C832.0,599.2 838.0,616.4 840.0,620.0C842.0,623.6 848.0,629.8 850.0,631.2C852.0,632.7 857.8,635.0 860.0,634.5C862.2,634.0 869.8,629.0 872.5,626.2C875.2,623.5 885.0,610.5 887.5,607.5C890.0,604.5 895.1,597.7 897.5,596.5C899.9,595.3 908.2,595.5 911.5,595.5C914.8,595.5 925.6,597.3 930.0,596.2C934.4,595.2 951.5,588.4 955.0,585.0C958.5,581.6 962.8,567.8 965.0,562.5C967.2,557.2 974.8,538.8 977.5,532.5C980.2,526.2 989.5,506.8 992.5,500.0C995.5,493.2 1004.5,472.0 1007.5,465.0C1010.5,458.0 1020.0,435.8 1022.5,430.0C1025.0,424.2 1030.5,411.8 1032.5,407.5C1034.5,403.2 1040.0,390.2 1042.5,387.5C1045.0,384.8 1054.8,382.2 1057.5,380.0C1060.2,377.8 1067.5,368.2 1070.0,365.0C1072.5,361.8 1080.0,349.9 1082.5,347.5C1085.0,345.1 1092.2,341.7 1095.0,340.5C1097.8,339.3 1107.0,335.8 1110.0,335.8C1113.0,335.8 1122.0,339.7 1125.0,340.5C1128.0,341.3 1135.5,343.4 1140.0,343.8C1144.5,344.1 1166.2,341.6 1170.0,343.8C1173.8,345.9 1176.0,361.4 1177.5,365.0C1179.0,368.6 1183.0,377.6 1185.0,380.0C1187.0,382.4 1195.0,388.0 1197.5,389.5C1200.0,391.0 1207.5,395.4 1210.0,395.0C1212.5,394.6 1219.8,386.5 1222.5,385.0C1225.2,383.5 1234.5,380.9 1237.5,380.0C1240.5,379.1 1250.2,377.5 1252.5,375.5C1254.8,373.5 1258.5,363.2 1260.0,360.0C1261.5,356.8 1265.0,346.0 1267.5,343.8C1270.0,341.5 1280.9,338.9 1285.0,337.5C1289.1,336.1 1305.2,327.8 1308.8,329.5C1312.2,331.2 1317.4,351.7 1320.0,355.0C1322.6,358.3 1332.2,359.5 1335.0,362.5C1337.8,365.5 1345.0,379.0 1347.5,385.0C1350.0,391.0 1357.2,415.2 1360.0,422.5C1362.8,429.8 1372.0,450.8 1375.0,457.5C1378.0,464.2 1387.0,483.2 1390.0,490.0C1393.0,496.8 1402.2,518.2 1405.0,525.0C1407.8,531.8 1415.0,552.5 1417.5,558.0C1420.0,563.5 1427.5,576.5 1430.0,580.0C1432.5,583.5 1440.0,589.8 1442.5,592.5C1445.0,595.2 1452.2,604.8 1455.0,607.5C1457.8,610.2 1466.5,618.3 1470.0,620.0C1473.5,621.7 1487.0,625.0 1490.0,624.5C1493.0,624.0 1498.0,617.0 1500.0,615.5C1502.0,614.0 1507.8,609.6 1510.0,609.0C1512.2,608.4 1519.4,608.9 1521.8,609.0C1524.2,609.1 1531.2,611.1 1533.6,610.5C1536.0,609.9 1542.7,603.5 1545.5,602.6C1548.3,601.7 1558.5,600.9 1561.3,601.2C1564.1,601.5 1570.8,604.2 1573.2,605.6C1575.6,607.0 1582.8,613.9 1585.0,615.5C1587.2,617.1 1592.8,621.0 1595.0,621.8C1597.2,622.5 1604.5,623.1 1606.9,623.0C1609.3,622.9 1616.7,621.8 1618.7,620.4C1620.7,619.0 1625.0,612.6 1626.6,609.5C1628.2,606.4 1633.0,594.3 1634.6,589.8C1636.2,585.2 1640.9,569.0 1642.5,564.0C1644.1,559.0 1648.6,544.6 1650.4,540.3C1652.2,535.9 1658.3,523.9 1660.3,520.5C1662.3,517.1 1668.2,509.2 1670.2,506.6C1672.2,504.0 1678.2,496.4 1680.0,494.8C1681.8,493.2 1685.8,491.0 1688.0,490.8C1690.2,490.6 1699.0,493.0 1701.9,493.2C1704.8,493.4 1715.2,492.8 1716.7,492.8" fill="none" stroke="#2196f3" stroke-width="2" stroke-dasharray="8 4" opacity="0.85"/><path d="M29.0,538.2C30.5,538.7 40.8,542.8 43.7,543.1C46.6,543.4 54.9,541.8 57.7,540.9C60.5,540.0 68.9,535.6 71.7,534.4C74.5,533.2 82.9,530.4 85.7,529.0C88.5,527.6 97.1,523.3 99.7,520.7C102.3,518.1 109.4,506.4 112.0,503.2C114.6,500.0 123.2,491.0 126.0,489.2C128.8,487.4 134.1,485.6 140.0,485.2C145.9,484.8 179.6,485.4 185.5,485.7C191.4,486.0 196.9,488.2 199.5,488.0C202.1,487.8 208.9,485.9 211.7,484.0C214.5,482.1 224.7,471.1 227.5,469.1C230.3,467.1 237.2,466.1 239.7,463.9C242.1,461.7 249.7,451.3 252.0,447.2C254.3,443.1 260.7,426.1 262.5,422.7C264.3,419.3 268.2,414.1 270.3,413.5C272.4,412.9 281.0,415.7 283.5,416.6C286.0,417.5 293.1,421.0 295.7,422.7C298.3,424.4 306.9,432.4 309.7,433.2C312.5,434.0 319.3,430.9 323.7,430.6C328.1,430.3 349.8,429.0 353.5,430.1C357.2,431.2 359.1,439.4 360.5,442.0C361.9,444.6 365.4,453.7 367.5,456.0C369.6,458.3 378.8,463.2 381.5,464.7C384.2,466.1 390.9,469.7 395.0,470.5C399.1,471.3 418.5,470.8 422.5,473.0C426.5,475.2 432.2,489.2 435.0,492.5C437.8,495.8 447.0,504.4 450.0,506.2C453.0,508.1 462.0,507.9 465.0,510.5C468.0,513.1 477.0,526.8 480.0,532.5C483.0,538.2 492.5,560.2 495.0,567.5C497.5,574.8 503.0,597.2 505.0,605.0C507.0,612.8 513.0,638.3 515.0,645.0C517.0,651.7 523.0,667.8 525.0,672.0C527.0,676.2 532.8,684.0 535.0,687.5C537.2,691.0 544.8,704.2 547.5,707.5C550.2,710.8 559.8,716.5 562.5,720.0C565.2,723.5 572.8,736.5 575.0,742.5C577.2,748.5 583.0,772.2 585.0,780.0C587.0,787.8 592.8,812.8 595.0,820.0C597.2,827.2 605.1,846.9 607.5,852.5C609.9,858.1 616.0,873.4 618.8,876.2C621.5,879.1 632.4,878.5 635.0,881.2C637.6,884.0 642.8,899.1 645.0,903.8C647.2,908.4 655.0,924.3 657.5,927.5C660.0,930.7 667.8,934.9 670.0,935.8C672.2,936.6 677.8,936.3 680.0,935.8C682.2,935.2 690.0,931.2 692.5,930.0C695.0,928.8 702.2,924.5 705.0,923.8C707.8,923.0 717.2,923.0 720.0,922.0C722.8,921.0 729.8,915.2 732.5,913.8C735.2,912.2 745.0,909.0 747.5,907.0C750.0,905.0 755.0,895.5 757.5,893.8C760.0,892.0 769.5,889.1 772.5,889.2C775.5,889.4 784.5,894.9 787.5,895.5C790.5,896.1 799.5,896.7 802.5,895.5C805.5,894.3 814.8,885.6 817.5,883.8C820.2,881.9 827.5,878.6 830.0,877.0C832.5,875.4 839.5,869.0 842.5,868.0C845.5,867.0 857.0,868.8 860.0,867.5C863.0,866.2 869.9,857.2 872.5,855.0C875.1,852.8 884.0,844.5 886.2,845.0C888.5,845.5 893.1,857.5 895.0,860.0C896.9,862.5 903.0,868.8 905.0,870.0C907.0,871.2 912.5,872.1 915.0,871.8C917.5,871.4 927.2,867.6 930.0,866.2C932.8,864.9 939.8,858.6 942.5,858.0C945.2,857.4 954.8,858.0 957.5,860.0C960.2,862.0 967.2,874.5 970.0,877.5C972.8,880.5 982.0,887.5 985.0,890.0C988.0,892.5 997.1,899.6 1000.0,902.4C1002.9,905.1 1011.0,917.0 1013.7,917.5C1016.4,918.0 1024.7,907.9 1027.4,907.5C1030.2,907.1 1038.5,913.5 1041.2,913.2C1044.0,912.9 1052.2,906.5 1054.9,904.1C1057.6,901.7 1065.9,891.6 1068.6,889.5C1071.3,887.4 1079.5,884.6 1082.3,883.2C1085.0,881.8 1093.3,877.5 1096.1,875.8C1098.8,874.1 1107.6,868.9 1109.8,866.4C1112.0,863.9 1116.7,854.2 1118.4,850.9C1120.1,847.6 1125.0,837.4 1126.9,833.8C1128.8,830.2 1134.5,816.9 1137.2,814.9C1140.0,812.9 1151.4,812.8 1154.4,813.5C1157.4,814.2 1165.5,821.8 1167.2,821.8C1168.9,821.8 1170.7,815.8 1171.5,813.2C1172.3,810.6 1174.1,800.6 1175.0,796.0C1175.9,791.4 1178.9,771.5 1180.1,766.9C1181.3,762.3 1185.3,752.7 1187.0,749.7C1188.7,746.7 1195.0,739.1 1197.3,736.9C1199.6,734.7 1207.9,727.5 1210.1,727.8C1212.3,728.1 1217.8,737.3 1219.6,739.5C1221.4,741.7 1226.2,747.8 1228.1,749.7C1230.0,751.6 1236.5,756.1 1238.4,758.3C1240.3,760.5 1245.5,768.7 1247.0,772.0C1248.5,775.3 1252.5,785.1 1253.9,790.9C1255.3,796.7 1259.3,822.5 1260.7,830.4C1262.1,838.3 1265.9,862.3 1267.6,869.8C1269.3,877.3 1275.9,898.8 1277.9,905.8C1279.9,912.8 1285.3,930.8 1287.5,940.0C1289.7,949.2 1297.8,988.0 1300.0,997.5C1302.2,1007.0 1308.0,1028.8 1310.0,1035.0C1312.0,1041.2 1317.8,1054.5 1320.0,1060.0C1322.2,1065.5 1330.0,1084.2 1332.5,1090.0C1335.0,1095.8 1343.1,1114.1 1345.0,1117.5C1346.9,1120.9 1349.2,1123.7 1351.2,1123.8C1353.2,1123.8 1362.1,1118.4 1365.0,1118.0C1367.9,1117.6 1377.0,1120.2 1380.0,1119.5C1383.0,1118.8 1391.0,1113.0 1395.0,1111.2C1399.0,1109.5 1416.0,1103.8 1420.0,1102.0C1424.0,1100.2 1432.0,1095.0 1435.0,1093.8C1438.0,1092.5 1447.0,1091.4 1450.0,1090.0C1453.0,1088.6 1461.2,1081.3 1465.0,1080.0C1468.8,1078.7 1483.5,1076.8 1487.5,1077.0C1491.5,1077.2 1500.2,1081.8 1505.0,1082.5C1509.8,1083.2 1530.9,1084.9 1535.0,1083.8C1539.1,1082.6 1543.5,1072.1 1546.2,1071.2C1549.0,1070.4 1559.6,1076.6 1562.5,1075.5C1565.4,1074.4 1572.2,1064.0 1575.0,1060.0C1577.8,1056.0 1587.2,1038.2 1590.0,1035.0C1592.8,1031.8 1599.8,1030.8 1602.5,1027.5C1605.2,1024.2 1614.6,1006.8 1617.5,1002.5C1620.4,998.2 1628.5,985.5 1631.2,985.0C1634.0,984.5 1642.1,996.0 1645.0,997.5C1647.9,999.0 1657.0,1000.0 1660.0,1000.0C1663.0,1000.0 1672.2,998.6 1675.0,997.5C1677.8,996.4 1685.0,991.4 1687.5,988.8C1690.0,986.1 1697.1,973.2 1700.0,971.2C1702.9,969.3 1715.0,969.7 1716.7,969.5" fill="none" stroke="#2196f3" stroke-width="2" stroke-dasharray="8 4" opacity="0.85"/><path d="M29.0,319.2C33.5,320.8 53.4,327.1 62.5,330.8C71.6,334.4 90.2,342.2 97.5,346.2C104.8,350.3 111.8,358.1 117.5,361.2C123.2,364.4 134.0,368.7 140.0,370.0C146.0,371.3 156.2,370.8 162.5,370.8C168.8,370.8 180.8,370.6 187.5,370.0C194.2,369.4 205.8,368.4 212.5,366.2C219.2,364.1 230.2,358.0 237.5,353.8C244.8,349.5 261.5,338.4 267.5,334.2C273.5,330.1 278.2,325.6 282.5,322.5C286.8,319.4 294.7,315.1 300.0,311.2C305.3,307.4 317.5,295.9 322.5,293.2C327.5,290.6 333.5,291.8 337.5,291.2C341.5,290.7 348.5,288.5 352.5,289.2C356.5,290.0 362.2,295.2 367.5,297.0C372.8,298.8 385.2,301.6 392.5,302.5C399.8,303.4 415.2,302.2 422.5,303.8C429.8,305.2 441.8,312.2 447.5,313.8C453.2,315.3 460.7,313.9 465.0,315.5C469.3,317.1 475.6,323.1 479.4,325.5C483.2,327.9 489.8,330.3 493.6,333.8C497.4,337.3 504.0,346.8 507.9,351.6C511.8,356.4 517.8,364.9 522.5,370.0C527.2,375.1 539.5,385.6 543.5,389.6C547.5,393.6 548.6,394.6 552.5,400.0C556.4,405.4 567.8,421.7 572.5,430.0C577.2,438.3 583.5,453.5 587.5,462.5C591.5,471.5 598.5,488.5 602.5,497.5C606.5,506.5 613.2,521.7 617.5,530.0C621.8,538.3 630.7,553.0 635.0,560.0C639.3,567.0 646.3,577.2 650.0,582.5C653.7,587.8 658.2,594.7 662.5,600.0C666.8,605.3 677.2,616.3 682.5,622.5C687.8,628.7 696.2,640.2 702.5,646.2C708.8,652.2 724.3,661.8 730.0,667.5C735.7,673.2 740.3,683.4 745.0,688.8C749.7,694.1 759.7,703.6 765.0,707.5C770.3,711.4 780.0,715.8 785.0,718.0C790.0,720.2 796.8,721.5 802.5,723.8C808.2,726.0 821.8,732.0 827.5,735.0C833.2,738.0 840.8,744.2 845.0,746.2C849.2,748.3 855.1,751.5 858.8,750.5C862.4,749.5 868.9,741.6 872.5,738.5C876.1,735.4 882.3,728.0 886.0,727.0C889.7,726.0 896.1,730.3 900.0,731.2C903.9,732.2 911.0,734.1 915.0,734.2C919.0,734.4 926.3,733.2 930.0,732.0C933.7,730.8 938.8,726.4 942.5,725.0C946.2,723.6 952.2,724.1 957.5,721.2C962.8,718.4 975.8,708.2 982.5,703.8C989.2,699.3 1001.8,693.2 1007.5,688.0C1013.2,682.8 1020.3,670.2 1025.0,665.0C1029.7,659.8 1038.2,652.1 1042.5,648.8C1046.8,645.4 1053.5,643.2 1057.5,640.0C1061.5,636.8 1068.8,628.5 1072.5,625.0C1076.2,621.5 1081.3,616.2 1085.0,613.8C1088.7,611.2 1096.3,608.2 1100.0,606.2C1103.7,604.2 1108.8,601.6 1112.5,598.8C1116.2,595.9 1123.8,587.7 1127.5,585.0C1131.2,582.3 1136.3,579.6 1140.0,578.8C1143.7,577.9 1151.2,578.1 1155.0,578.8C1158.8,579.4 1165.1,584.8 1168.8,583.5C1172.4,582.2 1179.3,571.5 1182.5,569.0C1185.7,566.5 1188.8,565.4 1192.5,564.5C1196.2,563.6 1205.7,561.9 1210.0,562.0C1214.3,562.1 1221.0,563.9 1225.0,565.0C1229.0,566.1 1236.3,567.7 1240.0,570.0C1243.7,572.3 1249.8,579.5 1252.5,582.5C1255.2,585.5 1256.3,587.1 1260.0,592.5C1263.7,597.9 1274.7,613.7 1280.0,623.0C1285.3,632.3 1294.7,652.2 1300.0,662.5C1305.3,672.8 1314.7,690.7 1320.0,700.0C1325.3,709.3 1335.3,724.5 1340.0,732.5C1344.7,740.5 1350.3,753.0 1355.0,760.0C1359.7,767.0 1369.7,779.0 1375.0,785.0C1380.3,791.0 1390.3,800.3 1395.0,805.0C1399.7,809.7 1406.3,816.0 1410.0,820.0C1413.7,824.0 1417.8,832.0 1422.5,835.0C1427.2,838.0 1439.3,840.7 1445.0,842.5C1450.7,844.3 1458.7,847.6 1465.0,848.8C1471.3,849.9 1487.2,851.1 1492.5,850.8C1497.8,850.4 1499.5,846.9 1505.0,846.2C1510.5,845.6 1528.1,847.6 1533.8,846.2C1539.4,844.9 1543.7,837.3 1547.5,836.2C1551.3,835.2 1556.8,839.3 1562.5,838.2C1568.2,837.2 1584.3,830.2 1590.0,828.2C1595.7,826.3 1601.3,826.2 1605.0,823.8C1608.7,821.3 1613.8,814.8 1617.5,810.0C1621.2,805.2 1628.5,792.5 1632.5,787.5C1636.5,782.5 1643.5,776.5 1647.5,772.5C1651.5,768.5 1657.5,761.5 1662.5,757.5C1667.5,753.5 1680.0,745.8 1685.0,742.5C1690.0,739.2 1695.8,734.0 1700.0,732.5C1704.2,731.0 1714.1,731.4 1716.2,731.2" fill="none" stroke="#2196f3" stroke-width="3" stroke-linejoin="round"/><rect x="20" y="746" width="2106" height="2" fill="rgba(255,255,255,0.28)"/><line x1="1726" y1="40" x2="1726" y2="1168" stroke="#424449" stroke-width="2" stroke-dasharray="8 8"/><rect x="28" y="1169" width="2" height="12" fill="#181c27"/><rect x="239" y="1169" width="2" height="12" fill="#181c27"/><rect x="450" y="1169" width="2" height="12" fill="#181c27"/><rect x="661" y="1169" width="2" height="12" fill="#181c27"/><rect x="872" y="1169" width="2" height="12" fill="#181c27"/><rect x="1083" y="1169" width="2" height="12" fill="#181c27"/><rect x="1294" y="1169" width="2" height="12" fill="#181c27"/><rect x="1505" y="1169" width="2" height="12" fill="#181c27"/><rect x="1716" y="1169" width="2" height="12" fill="#181c27"/><rect x="0" y="1270" width="2286" height="14" fill="#1e222d"/><rect x="0" y="1270" width="2286" height="2" fill="#2a2e39"/><rect x="1103" y="1276" width="80" height="4" rx="2" fill="#363a45"/><rect x="20" y="1333.0" width="2106" height="2" fill="#2a2e39"/><rect x="20" y="1480.7" width="2106" height="2" fill="#2a2e39"/><rect x="20" y="1377.3" width="2106" height="2" fill="#242935"/><line x1="20" y1="1378.3" x2="2126" y2="1378.3" stroke="#b54e4e" stroke-width="2" stroke-dasharray="6 6"/><rect x="20" y="1406.9" width="2106" height="2" fill="#242935"/><line x1="20" y1="1407.9" x2="2126" y2="1407.9" stroke="#868892" stroke-width="2" stroke-dasharray="6 6"/><rect x="20" y="1436.4" width="2106" height="2" fill="#242935"/><line x1="20" y1="1437.4" x2="2126" y2="1437.4" stroke="#257a74" stroke-width="2" stroke-dasharray="6 6"/><path d="M20.0,1434.5L34.2,1430.8L48.4,1408.3L62.7,1397.2L76.9,1403.7L91.1,1400.5L105.3,1411.7L119.5,1396.7L133.7,1388.3L148.0,1393.3L162.2,1378.3L176.4,1386.3L190.6,1383.0L204.8,1409.5L219.0,1402.8L233.3,1393.7L247.5,1408.3L261.7,1413.3L275.9,1391.2L290.1,1389.7L304.3,1381.2L318.6,1385.0L332.8,1397.5L347.0,1394.2L361.2,1418.7L375.4,1409.1L389.6,1417.5L403.9,1406.5L418.1,1413.0L432.3,1426.8L446.5,1421.2L460.7,1414.5L474.9,1433.2L489.2,1439.2L503.4,1448.2L517.6,1444.2L531.8,1430.5L546.0,1434.5L560.2,1418.8L574.5,1435.8L588.7,1443.8L602.9,1447.5L617.1,1440.5L631.3,1427.0L645.5,1434.5L659.8,1440.8L674.0,1425.5L688.2,1418.8L702.4,1411.0L716.6,1411.0L730.8,1420.8L745.1,1429.2L759.3,1420.0L773.5,1412.5L787.7,1399.2L801.9,1394.2L816.1,1396.8L830.4,1406.2L844.6,1408.5L858.8,1402.0L873.0,1401.0L887.2,1398.5L901.4,1422.0L915.7,1414.2L929.9,1413.0L944.1,1397.5L958.3,1402.2L972.5,1392.5L986.7,1390.0L1001.0,1392.8L1015.2,1391.5L1029.4,1391.5L1043.6,1381.5L1057.8,1395.2L1072.0,1397.5L1086.3,1399.0L1100.5,1378.0L1114.7,1385.0L1128.9,1389.2L1143.1,1398.2L1157.3,1407.0L1171.6,1429.5L1185.8,1419.2L1200.0,1426.8L1214.2,1436.8L1228.4,1438.2L1242.6,1437.2L1256.9,1432.5L1271.1,1457.2L1285.3,1450.2L1299.5,1450.2L1313.7,1454.5L1327.9,1440.2L1342.2,1441.2L1356.4,1439.2L1370.6,1419.5L1384.8,1427.0L1399.0,1418.5L1413.2,1418.5L1427.5,1419.2L1441.7,1412.0L1455.9,1405.5L1470.1,1385.0L1484.3,1389.2L1498.5,1377.5L1512.8,1364.5L1527.0,1375.8L1541.2,1386.5L1555.4,1382.5L1569.6,1419.0L1583.8,1412.8L1598.1,1421.2L1612.3,1413.0L1626.5,1394.8L1640.7,1393.8L1654.9,1392.5L1669.1,1396.8L1683.4,1399.5L1697.6,1402.5L1711.8,1412.0L1726.0,1412.2" fill="none" stroke="#2962ff" stroke-width="3" stroke-linejoin="round"/><rect x="2226" y="1288" width="40" height="40" rx="6" fill="#2a2e39"/><path d="M2238.5,1302 L2253,1316.5 M2253,1302 L2238.5,1316.5" stroke="#787b86" stroke-width="2" fill="none"/><g fill="none" stroke="#464a55" stroke-width="1.8"><path d="M23.7,68 Q33.9,55.8 44.099999999999994,68 Q33.9,80.2 23.7,68Z"/></g><circle cx="33.9" cy="68" r="3.7" fill="#464a55"/><g fill="none" stroke="#3a3e4a" stroke-width="1.8"><path d="M23.7,125.9 Q33.9,113.7 44.099999999999994,125.9 Q33.9,138.1 23.7,125.9Z"/></g><circle cx="33.9" cy="125.9" r="3.7" fill="#3a3e4a"/></svg>
<div class="t ax" style="left:2144px;top:53.3px;">1.36000</div><div class="t ax" style="left:2144px;top:185.25px;">1.35500</div><div class="t ax" style="left:2144px;top:317.2px;">1.35000</div><div class="t ax" style="left:2144px;top:449.15px;">1.34500</div><div class="t ax" style="left:2144px;top:581.0999999999999px;">1.34000</div><div class="t ax" style="left:2144px;top:713.05px;">1.33500</div><div class="t ax" style="left:2144px;top:844.9999999999999px;">1.33000</div><div class="t ax" style="left:2144px;top:976.9499999999998px;">1.32500</div><div class="t ax" style="left:2144px;top:1108.8999999999999px;">1.32000</div><div class="t pl" style="left:2136px;top:727px;">1.33416</div><div class="t ax" style="left:2132px;top:1321.3px;">100</div><div class="t ax" style="left:2132px;top:1365.61px;">70</div><div class="t ax" style="left:2132px;top:1395.15px;">50</div><div class="t ax" style="left:2132px;top:1424.69px;">30</div><div class="t ax" style="left:2132px;top:1469.0px;">0</div><div class="t ax" style="left:-71px;top:1184px;width:200px;text-align:center">17:00 20/02</div><div class="t ax" style="left:140px;top:1184px;width:200px;text-align:center">05:00 25/02</div><div class="t ax" style="left:351px;top:1184px;width:200px;text-align:center">17:00 27/02</div><div class="t ax" style="left:562px;top:1184px;width:200px;text-align:center">05:00 04/03</div><div class="t ax" style="left:773px;top:1184px;width:200px;text-align:center">17:00 06/03</div><div class="t ax" style="left:984px;top:1184px;width:200px;text-align:center">05:00 11/03</div><div class="t ax" style="left:1195px;top:1184px;width:200px;text-align:center">17:00 13/03</div><div class="t ax" style="left:1406px;top:1184px;width:200px;text-align:center">05:00 18/03</div><div class="t ax" style="left:1617px;top:1184px;width:200px;text-align:center">17:00 20/03</div><div class="t bb" style="left:1727px;top:476px;">BB</div><div class="t mono" style="left:50px;top:50.5px;"><span style="color:#787b86">O</span> <span style="color:#e8e8e8">1.33501</span></div><div class="t mono" style="left:244px;top:50.5px;"><span style="color:#787b86">H</span> <span style="color:#26a69a">1.33505</span></div><div class="t mono" style="left:438.5px;top:50.5px;"><span style="color:#787b86">L</span> <span style="color:#ef5350">1.32976</span></div><div class="t mono" style="left:633px;top:50.5px;"><span style="color:#787b86">C</span> <span style="color:#ef5350">1.33356</span></div><div class="t mono" style="left:826px;top:50.5px;"><span style="color:#ef5350">-0.00145</span></div><div class="t mono" style="left:1015.5px;top:50.5px;"><span style="color:#ef5350">(-0.11%)</span></div><div class="t" style="left:0;top:0;font-family:'Liberation Sans',sans-serif;color:#2757de;font-size:53px;-webkit-text-stroke:0.7px #2757de;"><span style="display:inline-block;width:0;vertical-align:top;transform-origin:0 0;transform:translate(48.11px,69.05px) scale(0.6960,1.0189);font-weight:bold;-webkit-text-stroke-width:0.2px">1</span><span style="display:inline-block;width:0;vertical-align:top;transform-origin:0 0;transform:translate(68.05px,69.05px) scale(0.6840,1.0189);font-weight:bold;-webkit-text-stroke-width:0.2px">1</span><span style="display:inline-block;width:0;vertical-align:top;transform-origin:0 0;transform:translate(88.90px,65.71px) scale(1.0000,1.0857);">:</span><span style="display:inline-block;width:0;vertical-align:top;transform-origin:0 0;transform:translate(101.91px,70.70px) scale(1.4462,0.9667);">0</span><span style="display:inline-block;width:0;vertical-align:top;transform-origin:0 0;transform:translate(145.67px,70.70px) scale(1.4654,0.9667);">6</span><span style="display:inline-block;width:0;vertical-align:top;transform-origin:0 0;transform:translate(186.70px,65.71px) scale(1.0000,1.0857);">:</span><span style="display:inline-block;width:0;vertical-align:top;transform-origin:0 0;transform:translate(199.71px,70.70px) scale(1.4462,0.9667);">0</span><span style="display:inline-block;width:0;vertical-align:top;transform-origin:0 0;transform:translate(242.87px,69.05px) scale(1.3333,1.0189);">4</span></div><div class="t rsi" style="left:20px;top:1289.5px;">RSI</div><div class="t rsin" style="left:82.5px;top:1286.5px;">(14)</div><div class="t mono" style="left:170px;top:1296px;color:#2962ff;font-weight:normal;-webkit-text-stroke:0">47.15</div>
</body></html>
